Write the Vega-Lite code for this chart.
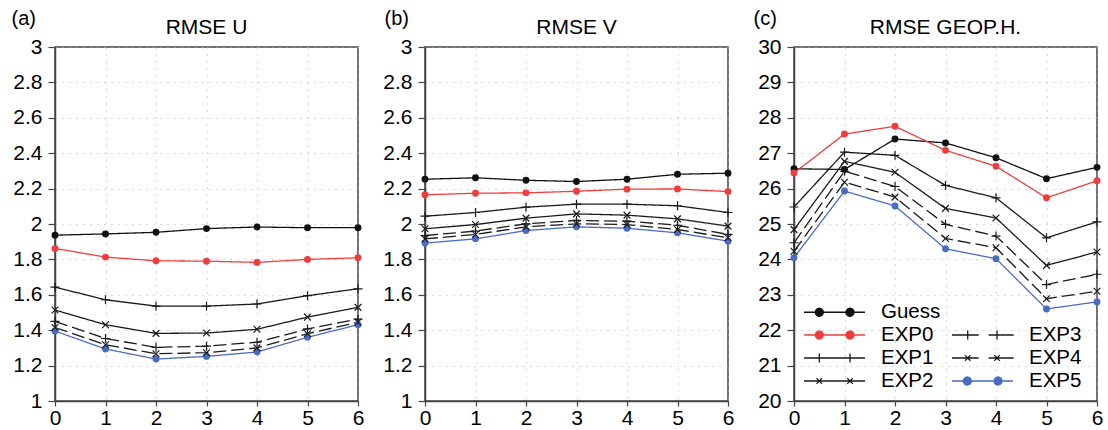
{
  "$schema": "https://vega.github.io/schema/vega-lite/v6.json",
  "padding": {"left": 10, "top": 7, "right": 5, "bottom": 5},
  "spacing": 16,
  "datasets": {
    "rmse": [
      {"p":"a","s":"Guess","t":0,"v":1.937},{"p":"a","s":"Guess","t":1,"v":1.944},{"p":"a","s":"Guess","t":2,"v":1.953},{"p":"a","s":"Guess","t":3,"v":1.974},{"p":"a","s":"Guess","t":4,"v":1.983},{"p":"a","s":"Guess","t":5,"v":1.979},{"p":"a","s":"Guess","t":6,"v":1.979},
      {"p":"a","s":"EXP0","t":0,"v":1.862},{"p":"a","s":"EXP0","t":1,"v":1.813},{"p":"a","s":"EXP0","t":2,"v":1.792},{"p":"a","s":"EXP0","t":3,"v":1.790},{"p":"a","s":"EXP0","t":4,"v":1.783},{"p":"a","s":"EXP0","t":5,"v":1.800},{"p":"a","s":"EXP0","t":6,"v":1.809},
      {"p":"a","s":"EXP1","t":0,"v":1.643},{"p":"a","s":"EXP1","t":1,"v":1.572},{"p":"a","s":"EXP1","t":2,"v":1.536},{"p":"a","s":"EXP1","t":3,"v":1.536},{"p":"a","s":"EXP1","t":4,"v":1.548},{"p":"a","s":"EXP1","t":5,"v":1.595},{"p":"a","s":"EXP1","t":6,"v":1.634},
      {"p":"a","s":"EXP2","t":0,"v":1.514},{"p":"a","s":"EXP2","t":1,"v":1.431},{"p":"a","s":"EXP2","t":2,"v":1.382},{"p":"a","s":"EXP2","t":3,"v":1.384},{"p":"a","s":"EXP2","t":4,"v":1.405},{"p":"a","s":"EXP2","t":5,"v":1.474},{"p":"a","s":"EXP2","t":6,"v":1.529},
      {"p":"a","s":"EXP3","t":0,"v":1.450},{"p":"a","s":"EXP3","t":1,"v":1.353},{"p":"a","s":"EXP3","t":2,"v":1.303},{"p":"a","s":"EXP3","t":3,"v":1.310},{"p":"a","s":"EXP3","t":4,"v":1.332},{"p":"a","s":"EXP3","t":5,"v":1.407},{"p":"a","s":"EXP3","t":6,"v":1.463},
      {"p":"a","s":"EXP4","t":0,"v":1.415},{"p":"a","s":"EXP4","t":1,"v":1.318},{"p":"a","s":"EXP4","t":2,"v":1.267},{"p":"a","s":"EXP4","t":3,"v":1.273},{"p":"a","s":"EXP4","t":4,"v":1.300},{"p":"a","s":"EXP4","t":5,"v":1.380},{"p":"a","s":"EXP4","t":6,"v":1.445},
      {"p":"a","s":"EXP5","t":0,"v":1.395},{"p":"a","s":"EXP5","t":1,"v":1.294},{"p":"a","s":"EXP5","t":2,"v":1.237},{"p":"a","s":"EXP5","t":3,"v":1.252},{"p":"a","s":"EXP5","t":4,"v":1.277},{"p":"a","s":"EXP5","t":5,"v":1.360},{"p":"a","s":"EXP5","t":6,"v":1.431},
      {"p":"b","s":"Guess","t":0,"v":2.253},{"p":"b","s":"Guess","t":1,"v":2.261},{"p":"b","s":"Guess","t":2,"v":2.247},{"p":"b","s":"Guess","t":3,"v":2.240},{"p":"b","s":"Guess","t":4,"v":2.253},{"p":"b","s":"Guess","t":5,"v":2.281},{"p":"b","s":"Guess","t":6,"v":2.287},
      {"p":"b","s":"EXP0","t":0,"v":2.165},{"p":"b","s":"EXP0","t":1,"v":2.174},{"p":"b","s":"EXP0","t":2,"v":2.176},{"p":"b","s":"EXP0","t":3,"v":2.185},{"p":"b","s":"EXP0","t":4,"v":2.197},{"p":"b","s":"EXP0","t":5,"v":2.198},{"p":"b","s":"EXP0","t":6,"v":2.183},
      {"p":"b","s":"EXP1","t":0,"v":2.044},{"p":"b","s":"EXP1","t":1,"v":2.065},{"p":"b","s":"EXP1","t":2,"v":2.095},{"p":"b","s":"EXP1","t":3,"v":2.112},{"p":"b","s":"EXP1","t":4,"v":2.112},{"p":"b","s":"EXP1","t":5,"v":2.103},{"p":"b","s":"EXP1","t":6,"v":2.065},
      {"p":"b","s":"EXP2","t":0,"v":1.973},{"p":"b","s":"EXP2","t":1,"v":1.997},{"p":"b","s":"EXP2","t":2,"v":2.033},{"p":"b","s":"EXP2","t":3,"v":2.057},{"p":"b","s":"EXP2","t":4,"v":2.050},{"p":"b","s":"EXP2","t":5,"v":2.029},{"p":"b","s":"EXP2","t":6,"v":1.988},
      {"p":"b","s":"EXP3","t":0,"v":1.935},{"p":"b","s":"EXP3","t":1,"v":1.960},{"p":"b","s":"EXP3","t":2,"v":2.001},{"p":"b","s":"EXP3","t":3,"v":2.020},{"p":"b","s":"EXP3","t":4,"v":2.016},{"p":"b","s":"EXP3","t":5,"v":1.993},{"p":"b","s":"EXP3","t":6,"v":1.941},
      {"p":"b","s":"EXP4","t":0,"v":1.916},{"p":"b","s":"EXP4","t":1,"v":1.941},{"p":"b","s":"EXP4","t":2,"v":1.984},{"p":"b","s":"EXP4","t":3,"v":2.001},{"p":"b","s":"EXP4","t":4,"v":1.997},{"p":"b","s":"EXP4","t":5,"v":1.969},{"p":"b","s":"EXP4","t":6,"v":1.922},
      {"p":"b","s":"EXP5","t":0,"v":1.892},{"p":"b","s":"EXP5","t":1,"v":1.916},{"p":"b","s":"EXP5","t":2,"v":1.963},{"p":"b","s":"EXP5","t":3,"v":1.984},{"p":"b","s":"EXP5","t":4,"v":1.976},{"p":"b","s":"EXP5","t":5,"v":1.950},{"p":"b","s":"EXP5","t":6,"v":1.903},
      {"p":"c","s":"Guess","t":0,"v":26.56},{"p":"c","s":"Guess","t":1,"v":26.54},{"p":"c","s":"Guess","t":2,"v":27.40},{"p":"c","s":"Guess","t":3,"v":27.29},{"p":"c","s":"Guess","t":4,"v":26.87},{"p":"c","s":"Guess","t":5,"v":26.28},{"p":"c","s":"Guess","t":6,"v":26.60},
      {"p":"c","s":"EXP0","t":0,"v":26.44},{"p":"c","s":"EXP0","t":1,"v":27.54},{"p":"c","s":"EXP0","t":2,"v":27.76},{"p":"c","s":"EXP0","t":3,"v":27.08},{"p":"c","s":"EXP0","t":4,"v":26.63},{"p":"c","s":"EXP0","t":5,"v":25.74},{"p":"c","s":"EXP0","t":6,"v":26.22},
      {"p":"c","s":"EXP1","t":0,"v":25.48},{"p":"c","s":"EXP1","t":1,"v":27.03},{"p":"c","s":"EXP1","t":2,"v":26.94},{"p":"c","s":"EXP1","t":3,"v":26.09},{"p":"c","s":"EXP1","t":4,"v":25.74},{"p":"c","s":"EXP1","t":5,"v":24.61},{"p":"c","s":"EXP1","t":6,"v":25.06},
      {"p":"c","s":"EXP2","t":0,"v":24.84},{"p":"c","s":"EXP2","t":1,"v":26.77},{"p":"c","s":"EXP2","t":2,"v":26.46},{"p":"c","s":"EXP2","t":3,"v":25.44},{"p":"c","s":"EXP2","t":4,"v":25.17},{"p":"c","s":"EXP2","t":5,"v":23.83},{"p":"c","s":"EXP2","t":6,"v":24.21},
      {"p":"c","s":"EXP3","t":0,"v":24.47},{"p":"c","s":"EXP3","t":1,"v":26.49},{"p":"c","s":"EXP3","t":2,"v":26.06},{"p":"c","s":"EXP3","t":3,"v":24.99},{"p":"c","s":"EXP3","t":4,"v":24.66},{"p":"c","s":"EXP3","t":5,"v":23.29},{"p":"c","s":"EXP3","t":6,"v":23.58},
      {"p":"c","s":"EXP4","t":0,"v":24.23},{"p":"c","s":"EXP4","t":1,"v":26.18},{"p":"c","s":"EXP4","t":2,"v":25.76},{"p":"c","s":"EXP4","t":3,"v":24.59},{"p":"c","s":"EXP4","t":4,"v":24.33},{"p":"c","s":"EXP4","t":5,"v":22.89},{"p":"c","s":"EXP4","t":6,"v":23.10},
      {"p":"c","s":"EXP5","t":0,"v":24.05},{"p":"c","s":"EXP5","t":1,"v":25.93},{"p":"c","s":"EXP5","t":2,"v":25.51},{"p":"c","s":"EXP5","t":3,"v":24.30},{"p":"c","s":"EXP5","t":4,"v":24.02},{"p":"c","s":"EXP5","t":5,"v":22.60},{"p":"c","s":"EXP5","t":6,"v":22.80}
    ]
  },
  "resolve": {"scale": {"color": "independent", "strokeDash": "independent", "shape": "independent"}, "legend": {"color": "independent"}},
  "hconcat": [
    {
      "width": 303, "height": 354,
      "data": {"name": "rmse"},
      "transform": [{"filter": "datum.p == 'a'"}],
      "title": {"text": "RMSE U", "frame": "group", "anchor": "middle", "offset": -30},
      "encoding": {
        "x": {"field": "t", "type": "quantitative", "scale": {"domain": [0, 6], "nice": false, "zero": false}, "axis": {"values": [0,1,2,3,4,5,6], "title": null}},
        "y": {"field": "v", "type": "quantitative", "scale": {"domain": [1, 3], "nice": false, "zero": false}, "axis": {"values": [1,1.2,1.4,1.6,1.8,2,2.2,2.4,2.6,2.8,3], "format": "~g", "title": "(a)", "titleAngle": 0, "titleAlign": "left", "titleBaseline": "alphabetic", "titleX": -44, "titleY": -23}}
      },
      "layer": [
        {"mark": {"type": "line", "strokeWidth": 1.3},
         "encoding": {
           "color": {"field": "s", "type": "nominal", "scale": {"domain": ["Guess","EXP0","EXP1","EXP2","zz","EXP3","EXP4","EXP5"], "range": ["#111111","#f03c3c","#1a1a1a","#1a1a1a","#ffffff","#1a1a1a","#1a1a1a","#4a6bc4"]}, "legend": null},
           "strokeDash": {"field": "s", "type": "nominal", "scale": {"domain": ["Guess","EXP0","EXP1","EXP2","EXP3","EXP4","EXP5"], "range": [[1,0],[1,0],[1,0],[1,0],[13,5],[13,5],[1,0]]}, "legend": null}
         }},
        {"transform": [{"filter": "datum.s == 'Guess' || datum.s == 'EXP0' || datum.s == 'EXP5'"}],
         "mark": {"type": "point", "filled": true, "shape": "circle", "size": 48, "opacity": 1},
         "encoding": {"color": {"field": "s", "type": "nominal", "scale": {"domain": ["Guess","EXP0","EXP1","EXP2","zz","EXP3","EXP4","EXP5"], "range": ["#111111","#f03c3c","#1a1a1a","#1a1a1a","#ffffff","#1a1a1a","#1a1a1a","#4a6bc4"]}, "legend": null}}},
        {"transform": [{"filter": "datum.s == 'EXP1' || datum.s == 'EXP2' || datum.s == 'EXP3' || datum.s == 'EXP4'"}],
         "mark": {"type": "point", "filled": false, "size": 81, "strokeWidth": 1.2, "color": "#1a1a1a", "opacity": 1},
         "encoding": {"shape": {"field": "s", "type": "nominal", "scale": {"domain": ["EXP1","EXP2","EXP3","EXP4"], "range": ["M-1,0H1M0,-1V1","M-0.75,-0.75L0.75,0.75M-0.75,0.75L0.75,-0.75","M-1,0H1M0,-1V1","M-0.75,-0.75L0.75,0.75M-0.75,0.75L0.75,-0.75"]}, "legend": null}}}
      ]
    },
    {
      "width": 303, "height": 354,
      "data": {"name": "rmse"},
      "transform": [{"filter": "datum.p == 'b'"}],
      "title": {"text": "RMSE V", "frame": "group", "anchor": "middle", "offset": -30},
      "encoding": {
        "x": {"field": "t", "type": "quantitative", "scale": {"domain": [0, 6], "nice": false, "zero": false}, "axis": {"values": [0,1,2,3,4,5,6], "title": null}},
        "y": {"field": "v", "type": "quantitative", "scale": {"domain": [1, 3], "nice": false, "zero": false}, "axis": {"values": [1,1.2,1.4,1.6,1.8,2,2.2,2.4,2.6,2.8,3], "format": "~g", "title": "(b)", "titleAngle": 0, "titleAlign": "left", "titleBaseline": "alphabetic", "titleX": -41, "titleY": -23}}
      },
      "layer": [
        {"mark": {"type": "line", "strokeWidth": 1.3},
         "encoding": {
           "color": {"field": "s", "type": "nominal", "scale": {"domain": ["Guess","EXP0","EXP1","EXP2","zz","EXP3","EXP4","EXP5"], "range": ["#111111","#f03c3c","#1a1a1a","#1a1a1a","#ffffff","#1a1a1a","#1a1a1a","#4a6bc4"]}, "legend": null},
           "strokeDash": {"field": "s", "type": "nominal", "scale": {"domain": ["Guess","EXP0","EXP1","EXP2","EXP3","EXP4","EXP5"], "range": [[1,0],[1,0],[1,0],[1,0],[13,5],[13,5],[1,0]]}, "legend": null}
         }},
        {"transform": [{"filter": "datum.s == 'Guess' || datum.s == 'EXP0' || datum.s == 'EXP5'"}],
         "mark": {"type": "point", "filled": true, "shape": "circle", "size": 48, "opacity": 1},
         "encoding": {"color": {"field": "s", "type": "nominal", "scale": {"domain": ["Guess","EXP0","EXP1","EXP2","zz","EXP3","EXP4","EXP5"], "range": ["#111111","#f03c3c","#1a1a1a","#1a1a1a","#ffffff","#1a1a1a","#1a1a1a","#4a6bc4"]}, "legend": null}}},
        {"transform": [{"filter": "datum.s == 'EXP1' || datum.s == 'EXP2' || datum.s == 'EXP3' || datum.s == 'EXP4'"}],
         "mark": {"type": "point", "filled": false, "size": 81, "strokeWidth": 1.2, "color": "#1a1a1a", "opacity": 1},
         "encoding": {"shape": {"field": "s", "type": "nominal", "scale": {"domain": ["EXP1","EXP2","EXP3","EXP4"], "range": ["M-1,0H1M0,-1V1","M-0.75,-0.75L0.75,0.75M-0.75,0.75L0.75,-0.75","M-1,0H1M0,-1V1","M-0.75,-0.75L0.75,0.75M-0.75,0.75L0.75,-0.75"]}, "legend": null}}}
      ]
    },
    {
      "width": 303, "height": 354,
      "data": {"name": "rmse"},
      "transform": [{"filter": "datum.p == 'c'"}],
      "title": {"text": "RMSE GEOP.H.", "frame": "group", "anchor": "middle", "offset": -30},
      "encoding": {
        "x": {"field": "t", "type": "quantitative", "scale": {"domain": [0, 6], "nice": false, "zero": false}, "axis": {"values": [0,1,2,3,4,5,6], "title": null}},
        "y": {"field": "v", "type": "quantitative", "scale": {"domain": [20, 30], "nice": false, "zero": false}, "axis": {"values": [20,21,22,23,24,25,26,27,28,29,30], "format": "~g", "title": "(c)", "titleAngle": 0, "titleAlign": "left", "titleBaseline": "alphabetic", "titleX": -41, "titleY": -23}}
      },
      "layer": [
        {"mark": {"type": "line", "strokeWidth": 1.3},
         "encoding": {
           "color": {"field": "s", "type": "nominal", "scale": {"domain": ["Guess","EXP0","EXP1","EXP2","zz","EXP3","EXP4","EXP5"], "range": ["#111111","#f03c3c","#1a1a1a","#1a1a1a","#ffffff","#1a1a1a","#1a1a1a","#4a6bc4"]},
             "legend": {
               "orient": "bottom-left", "offset": 9, "padding": 0, "title": null, "columns": 2, "columnPadding": 8, "rowPadding": 1,
               "symbolSize": 400, "labelOffset": 56, "labelFontSize": 20.5, "labelColor": "#000", "labelFont": "Liberation Sans", "labelLimit": 200,
               "labelExpr": "datum.label == 'zz' ? '' : datum.label",
               "encode": {"symbols": {"update": {
                 "shape": {"signal": "datum.value == 'EXP1' ? 'M-1,0H5.1M0.53,-0.45V0.45M3.6,-0.45V0.45' : datum.value == 'EXP2' ? 'M-1,0H5.1M0.25,-0.28L0.81,0.28M0.25,0.28L0.81,-0.28M3.32,-0.28L3.88,0.28M3.32,0.28L3.88,-0.28' : datum.value == 'EXP3' ? 'M-1,0H1.67M2.67,0H5.17M0.57,-0.45V0.45M3.5,-0.45V0.45' : datum.value == 'EXP4' ? 'M-1,0H1.67M2.67,0H5.17M0.29,-0.28L0.85,0.28M0.29,0.28L0.85,-0.28M3.22,-0.28L3.78,0.28M3.22,0.28L3.78,-0.28' : 'M-1,0H5.1M0.13,0a0.4,0.4 0 1,0 0.8,0a0.4,0.4 0 1,0 -0.8,0M3.2,0a0.4,0.4 0 1,0 0.8,0a0.4,0.4 0 1,0 -0.8,0'"},
                 "fill": {"signal": "datum.value == 'Guess' ? '#111111' : datum.value == 'EXP0' ? '#f03c3c' : datum.value == 'EXP5' ? '#4a6bc4' : 'transparent'"},
                 "stroke": {"signal": "datum.value == 'EXP0' ? '#f03c3c' : datum.value == 'EXP5' ? '#4a6bc4' : '#1a1a1a'"},
                 "opacity": {"signal": "datum.value == 'zz' ? 0 : 1"},
                 "size": {"value": 400},
                 "strokeWidth": {"value": 1.3},
                 "strokeDash": {"value": [1, 0]}
               }}}
             }},
           "strokeDash": {"field": "s", "type": "nominal", "scale": {"domain": ["Guess","EXP0","EXP1","EXP2","EXP3","EXP4","EXP5"], "range": [[1,0],[1,0],[1,0],[1,0],[13,5],[13,5],[1,0]]}, "legend": null}
         }},
        {"transform": [{"filter": "datum.s == 'Guess' || datum.s == 'EXP0' || datum.s == 'EXP5'"}],
         "mark": {"type": "point", "filled": true, "shape": "circle", "size": 48, "opacity": 1},
         "encoding": {"color": {"field": "s", "type": "nominal", "scale": {"domain": ["Guess","EXP0","EXP1","EXP2","zz","EXP3","EXP4","EXP5"], "range": ["#111111","#f03c3c","#1a1a1a","#1a1a1a","#ffffff","#1a1a1a","#1a1a1a","#4a6bc4"]}}}},
        {"transform": [{"filter": "datum.s == 'EXP1' || datum.s == 'EXP2' || datum.s == 'EXP3' || datum.s == 'EXP4'"}],
         "mark": {"type": "point", "filled": false, "size": 81, "strokeWidth": 1.2, "color": "#1a1a1a", "opacity": 1},
         "encoding": {"shape": {"field": "s", "type": "nominal", "scale": {"domain": ["EXP1","EXP2","EXP3","EXP4"], "range": ["M-1,0H1M0,-1V1","M-0.75,-0.75L0.75,0.75M-0.75,0.75L0.75,-0.75","M-1,0H1M0,-1V1","M-0.75,-0.75L0.75,0.75M-0.75,0.75L0.75,-0.75"]}, "legend": null}}}
      ]
    }
  ],
  "config": {
    "font": "Liberation Sans",
    "view": {"stroke": "#444444", "strokeWidth": 1.5},
    "axis": {"labelFontSize": 21, "labelFont": "Liberation Sans", "labelColor": "#000000", "labelFlush": false, "labelOverlap": false,
             "domainColor": "#444444", "domainWidth": 1.5, "tickColor": "#444444", "tickWidth": 1.2,
             "grid": true, "gridColor": "#b0b0b0", "gridDash": [1, 6], "gridWidth": 1,
             "titleFontSize": 20, "titleFont": "Liberation Sans", "titleFontWeight": "normal", "titleColor": "#000000"},
    "axisX": {"tickSize": 5, "labelPadding": 1},
    "axisY": {"tickSize": 7, "labelPadding": 6},
    "title": {"fontSize": 21, "font": "Liberation Sans", "fontWeight": "normal", "color": "#000000"}
  }
}
